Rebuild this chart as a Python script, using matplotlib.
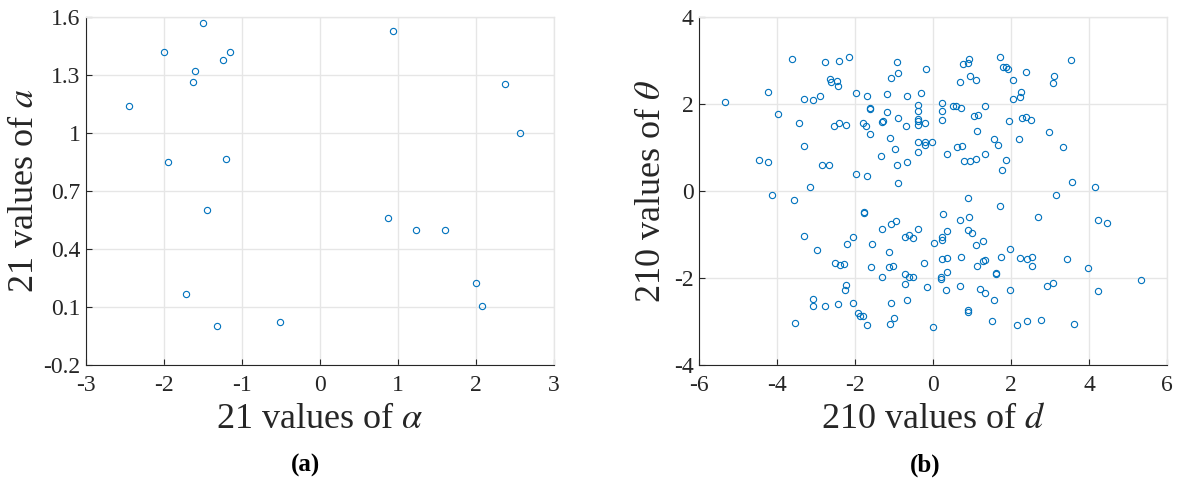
import matplotlib
matplotlib.use("Agg")
import matplotlib.pyplot as plt

plt.rcParams['font.family'] = ['Liberation Serif', 'DejaVu Serif']
plt.rcParams['mathtext.fontset'] = 'stix'
plt.rcParams['axes.unicode_minus'] = False

# panel (a): 21 pairs (alpha, a)
alpha_vals = [-2.45, -2.00, -1.50, -1.60, -1.63, -1.24, -1.16, -1.95, -1.21, -1.45, -1.72,
              -1.32, -0.51, 0.93, 0.87, 1.23, 1.60, 2.00, 2.08, 2.37, 2.57]
a_vals = [1.142, 1.419, 1.571, 1.320, 1.265, 1.381, 1.419, 0.849, 0.866, 0.603, 0.165,
          -0.001, 0.023, 1.527, 0.560, 0.500, 0.500, 0.225, 0.102, 1.253, 1.002]

# panel (b): 210 pairs (d, theta)
d_vals = [-5.34, -4.22, -3.62, -3.98, -2.77, -2.40, -2.15, -2.65, -2.62, -2.47,
          -2.43, -3.31, -3.07, -2.91, -3.44, -3.32, -4.46, -4.22, -2.84, -2.68,
          -3.16, -4.13, -3.56, -2.53, -2.40, -2.22, -1.97, -1.70, -1.62, -1.61,
          -1.80, -1.73, -1.62, -1.98, -1.70, -1.34, -1.32, -1.28, -1.19, -1.19,
          -1.10, -0.98, -1.08, -0.92, -0.89, -0.91, -0.70, -0.68, -0.92, -0.68,
          -0.89, -0.32, -0.38, -0.38, -0.38, -0.38, -0.38, -0.21, -0.17, -0.38,
          -0.21, -0.21, -0.03, -0.38, 0.23, 0.23, 0.23, 0.37, 0.93, 0.90,
          0.76, 0.68, 0.96, 1.09, 1.71, 1.79, 1.86, 1.93, 2.05, 2.38,
          2.26, 2.23, 2.04, 3.11, 3.08, 3.53, 0.52, 0.59, 0.72, 1.32,
          1.04, 1.15, 1.96, 2.28, 2.39, 2.50, 1.14, 1.56, 1.66, 2.20,
          2.98, 3.32, 0.62, 0.73, 0.80, 0.96, 1.09, 1.32, 1.87, 1.77,
          3.56, 4.14, 3.16, 0.90, -1.78, -1.77, -3.32, -2.98, -2.20, -2.04,
          -1.56, -1.32, -1.08, -0.94, -0.38, 0.26, -0.73, -0.62, -0.52, 0.02,
          0.23, 0.23, 0.37, -1.13, -2.51, -2.38, -2.28, -1.59, -1.13, -1.03,
          -1.32, -0.72, -0.62, -0.52, -0.22, 0.23, 0.37, 0.20, 0.20, 0.37,
          -0.71, -0.16, 0.32, -2.22, -2.25, -3.07, -3.09, -2.77, -2.44, -2.04,
          -1.93, -1.86, -1.79, -1.70, -1.08, -0.68, -1.01, -1.10, -0.01, -3.53,
          1.71, 0.68, 0.93, 0.90, 0.99, 1.10, 1.29, 0.71, 1.14, 1.27,
          1.32, 1.62, 1.62, 1.74, 1.98, 2.22, 2.42, 2.54, 2.53, 2.68,
          4.23, 4.47, 3.44, 3.98, 5.34, 4.23, 0.68, 1.20, 1.33, 1.56,
          1.98, 2.91, 3.08, 0.90, 0.90, 1.52, 2.16, 2.41, 2.78, 3.62]
theta_vals = [2.05, 2.29, 3.05, 1.77, 2.97, 3.00, 3.08, 2.59, 2.50, 2.54,
              2.42, 2.12, 2.09, 2.18, 1.56, 1.04, 0.71, 0.66, 0.61, 0.61,
              0.09, -0.10, -0.20, 1.50, 1.56, 1.52, 2.26, 2.18, 1.91, 1.89,
              1.56, 1.50, 1.31, 0.39, 0.34, 0.80, 1.59, 1.62, 2.23, 1.82,
              1.23, 0.96, 2.61, 2.97, 2.72, 1.69, 1.50, 2.18, 0.61, 0.66,
              0.18, 2.26, 1.99, 1.85, 1.66, 1.61, 1.53, 1.56, 2.80, 1.12,
              1.12, 1.07, 1.12, 0.90, 2.02, 1.85, 1.64, 0.85, 3.03, 2.94,
              2.92, 2.51, 2.64, 2.56, 3.08, 2.86, 2.86, 2.80, 2.56, 2.73,
              2.27, 2.17, 2.13, 2.64, 2.48, 3.02, 1.96, 1.96, 1.91, 1.96,
              1.72, 1.75, 1.62, 1.67, 1.70, 1.64, 1.39, 1.20, 1.07, 1.20,
              1.36, 1.01, 1.01, 1.04, 0.68, 0.68, 0.74, 0.85, 0.71, 0.48,
              0.20, 0.09, -0.10, -0.17, -0.48, -0.51, -1.03, -1.37, -1.21, -1.05,
              -1.21, -0.87, -0.75, -0.70, -0.87, -0.54, -1.05, -1.02, -1.08, -1.19,
              -1.13, -1.07, -0.91, -1.40, -1.65, -1.70, -1.67, -1.75, -1.75, -1.72,
              -1.98, -1.92, -1.98, -1.98, -1.65, -1.56, -1.54, -1.98, -2.02, -1.86,
              -2.14, -2.22, -2.27, -2.16, -2.28, -2.48, -2.65, -2.65, -2.60, -2.57,
              -2.81, -2.87, -2.87, -3.09, -2.57, -2.51, -2.92, -3.06, -3.13, -3.03,
              -0.34, -0.67, -0.61, -0.89, -0.97, -1.24, -1.16, -1.51, -1.72, -1.62,
              -1.59, -1.89, -1.92, -1.51, -1.33, -1.54, -1.56, -1.51, -1.72, -0.61,
              -0.67, -0.73, -1.56, -1.78, -2.05, -2.30, -2.19, -2.25, -2.36, -2.51,
              -2.27, -2.19, -2.11, -2.74, -2.78, -3.00, -3.09, -3.00, -2.97, -3.06]

xticks_a = [-3, -2, -1, 0, 1, 2, 3]
yticks_a = [-0.2, 0.1, 0.4, 0.7, 1, 1.3, 1.6]
ylabels_a = ['-0.2', '0.1', '0.4', '0.7', '1', '1.3', '1.6']
xticks_b = [-6, -4, -2, 0, 2, 4, 6]
yticks_b = [-4, -2, 0, 2, 4]

blue = '#0072BD'
dark = '#262626'
gridc = '#e6e6e6'

fig = plt.figure(figsize=(11.78, 4.79), dpi=100)
ax1 = fig.add_axes([0.0730, 0.2386, 0.3973, 0.7253])
ax2 = fig.add_axes([0.5934, 0.2386, 0.3973, 0.7253])


def style(ax, xt, yt):
    ax.set_xticks(xt)
    ax.set_yticks(yt)
    ax.set_xlim(xt[0], xt[-1])
    ax.set_ylim(yt[0], yt[-1])
    ax.grid(True, color=gridc, lw=1.0)
    ax.set_axisbelow(True)
    for s in ['top', 'right']:
        ax.spines[s].set_color(gridc)
        ax.spines[s].set_linewidth(1.0)
    for s in ['left', 'bottom']:
        ax.spines[s].set_color(dark)
        ax.spines[s].set_linewidth(0.8)
    ax.tick_params(direction='in', length=4, width=0.8, color=dark,
                   labelcolor=dark, labelsize=17)
    ax.tick_params(axis='x', pad=7.5)
    ax.tick_params(axis='y', pad=4)


ax1.plot(alpha_vals, a_vals, 'o', mfc='none', mec=blue, ms=4.5, mew=0.8)
style(ax1, xticks_a, yticks_a)
ax1.set_yticklabels(ylabels_a)
ax1.set_xlabel(r'21 values of $\alpha$', fontsize=26, color=dark, labelpad=5)
ax1.set_ylabel(r'21 values of $a$', fontsize=26, color=dark, labelpad=2)

ax2.plot(d_vals, theta_vals, 'o', mfc='none', mec=blue, ms=4.5, mew=0.8)
style(ax2, xticks_b, yticks_b)
ax2.set_xlabel(r'210 values of $d$', fontsize=26, color=dark, labelpad=5)
ax2.set_ylabel(r'210 values of $\theta$', fontsize=26, color=dark, labelpad=4)

fig.text(0.259, 0.029, '(a)', ha='center', va='center', fontsize=18, fontweight='bold')
fig.text(0.785, 0.029, '(b)', ha='center', va='center', fontsize=18, fontweight='bold')

fig.savefig('out.png', dpi=100)
